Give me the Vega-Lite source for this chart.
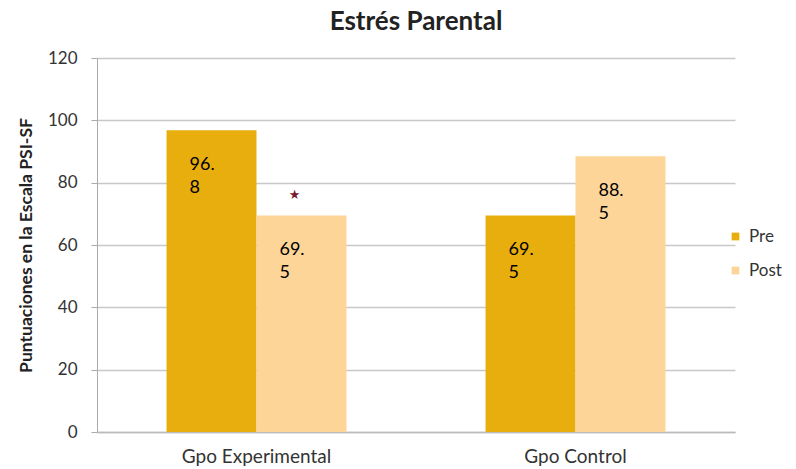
{
  "$schema": "https://vega.github.io/schema/vega-lite/v6.json",
  "autosize": {"type": "none"},
  "width": 638,
  "height": 374,
  "padding": {"left": 97, "top": 58, "right": 61, "bottom": 37},
  "background": "white",
  "title": {
    "text": "Estrés Parental",
    "font": "Lato",
    "fontSize": 26,
    "fontWeight": "bold",
    "color": "#222222",
    "anchor": "middle",
    "offset": 14
  },
  "datasets": {
    "bars": [
      {"grupo": "Gpo Experimental", "momento": "Pre", "valor": 96.8, "etiqueta": "96.\n8"},
      {"grupo": "Gpo Experimental", "momento": "Post", "valor": 69.5, "etiqueta": "69.\n5"},
      {"grupo": "Gpo Control", "momento": "Pre", "valor": 69.5, "etiqueta": "69.\n5"},
      {"grupo": "Gpo Control", "momento": "Post", "valor": 88.5, "etiqueta": "88.\n5"}
    ],
    "marca": [
      {"grupo": "Gpo Experimental", "momento": "Post", "valor": 76, "signo": "★"}
    ]
  },
  "config": {
    "view": {"stroke": null},
    "axis": {"labelFont": "Lato", "titleFont": "Lato"},
    "legend": {"labelFont": "Lato"}
  },
  "encoding": {
    "x": {
      "field": "grupo",
      "type": "nominal",
      "sort": ["Gpo Experimental", "Gpo Control"],
      "scale": {"paddingInner": 0.436, "paddingOuter": 0.218},
      "axis": {
        "title": null,
        "labelAngle": 0,
        "labelFontSize": 19,
        "labelColor": "#333333",
        "labelPadding": 15,
        "ticks": false,
        "domainColor": "#bbbbbb",
        "domainWidth": 1.5
      }
    },
    "xOffset": {
      "field": "momento",
      "type": "nominal",
      "sort": ["Pre", "Post"],
      "scale": {"paddingInner": 0, "paddingOuter": 0}
    }
  },
  "layer": [
    {
      "data": {"name": "bars"},
      "mark": {"type": "bar"},
      "encoding": {
        "y": {
          "field": "valor",
          "type": "quantitative",
          "scale": {"domain": [0, 120]},
          "axis": {
            "title": "Puntuaciones en la Escala PSI-SF",
            "titleFontSize": 17.5,
            "titleFontWeight": "bold",
            "titleColor": "#222222",
            "titlePadding": 12,
            "values": [0, 20, 40, 60, 80, 100, 120],
            "labelFontSize": 17,
            "labelColor": "#333333",
            "labelPadding": 14,
            "tickSize": 6,
            "tickColor": "#aaaaaa",
            "domainColor": "#aaaaaa",
            "gridColor": "#c8c8c8",
            "gridWidth": 1.5
          }
        },
        "color": {
          "field": "momento",
          "type": "nominal",
          "sort": ["Pre", "Post"],
          "scale": {"domain": ["Pre", "Post"], "range": ["#E8AE0E", "#FDD598"]},
          "legend": {
            "title": null,
            "orient": "none",
            "legendX": 630,
            "legendY": 170,
            "symbolType": "square",
            "symbolSize": 60,
            "labelFontSize": 17,
            "labelColor": "#333333",
            "rowPadding": 16,
            "labelOffset": 5
          }
        }
      }
    },
    {
      "data": {"name": "bars"},
      "mark": {
        "type": "text",
        "align": "left",
        "baseline": "top",
        "dx": -22,
        "dy": 26,
        "font": "Lato",
        "fontSize": 18,
        "lineHeight": 23,
        "lineBreak": "\n",
        "color": "#000000"
      },
      "encoding": {
        "y": {"field": "valor", "type": "quantitative"},
        "text": {"field": "etiqueta", "type": "nominal"}
      }
    },
    {
      "data": {"name": "marca"},
      "mark": {
        "type": "text",
        "font": "DejaVu Sans",
        "fontSize": 13,
        "dx": -7,
        "color": "#7a1c2e"
      },
      "encoding": {
        "y": {"field": "valor", "type": "quantitative"},
        "text": {"field": "signo", "type": "nominal"}
      }
    }
  ]
}
